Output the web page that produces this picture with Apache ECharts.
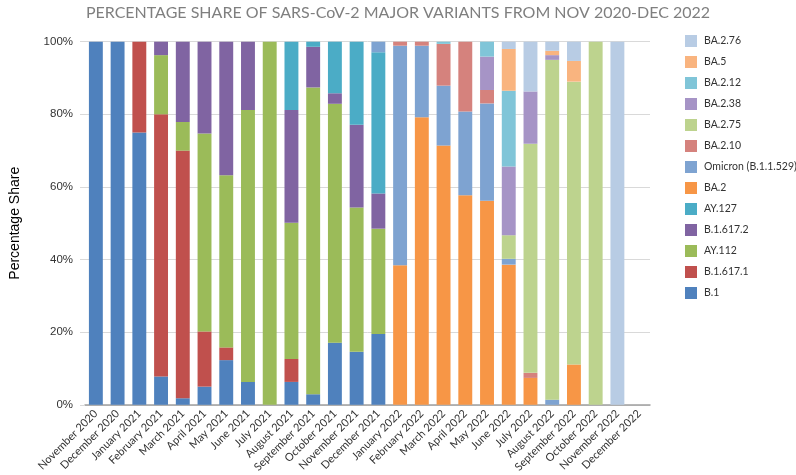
<!DOCTYPE html>
<html>
<head>
<meta charset="utf-8">
<script src="https://cdn.jsdelivr.net/npm/echarts@6/dist/echarts.min.js"></script>
<style>html,body{margin:0;padding:0;background:#fff}#c{width:796px;height:475px}</style>
</head>
<body>
<div id="c"></div>
<script>
const categories = ['November 2020','December 2020','January 2021','February 2021','March 2021','April 2021','May 2021','June 2021','July 2021','August 2021','September 2021','October 2021','November 2021','December 2021','January 2022','February 2022','March 2022','April 2022','May 2022','June 2022','July 2022','August 2022','September 2022','October 2022','November 2022','December 2022'];

const seriesNames = ['B.1','B.1.617.1','AY.112','B.1.617.2','AY.127','BA.2','Omicron (B.1.1.529)','BA.2.10','BA.2.75','BA.2.38','BA.2.12','BA.5','BA.2.76'];

const B1        = [100,100,75,7.8,1.8,5.0,12.3,6.3,0,6.3,2.9,17.1,14.6,19.5,0,0,0,0,0,0,0,0,0,0,0,0];
const B16171    = [0,0,25,72.2,68.2,15.2,3.5,0,0,6.3,0,0,0,0,0,0,0,0,0,0,0,0,0,0,0,0];
const AY112     = [0,0,0,16.3,7.9,54.5,47.4,74.9,100,37.5,84.5,65.8,39.7,29.0,0,0,0,0,0,0,0,0,0,0,0,0];
const B16172    = [0,0,0,3.7,22.1,25.3,36.8,18.8,0,31.1,11.2,2.9,22.8,9.7,0,0,0,0,0,0,0,0,0,0,0,0];
const AY127     = [0,0,0,0,0,0,0,0,0,18.8,1.4,14.2,22.9,38.9,0,0,0,0,0,0,0,0,0,0,0,0];
const BA2       = [0,0,0,0,0,0,0,0,0,0,0,0,0,0,38.4,79.2,71.4,57.7,56.2,38.6,7.4,0,11.1,0,0,0];
const Omicron   = [0,0,0,0,0,0,0,0,0,0,0,0,0,2.9,60.5,19.7,16.5,23.1,26.8,1.6,0,1.4,0,0,0,0];
const BA210     = [0,0,0,0,0,0,0,0,0,0,0,0,0,0,1.1,1.1,11.5,19.2,3.7,0,1.4,0,0,0,0,0];
const BA275     = [0,0,0,0,0,0,0,0,0,0,0,0,0,0,0,0,0,0,0,6.5,63.1,93.6,77.9,100,0,0];
const BA238     = [0,0,0,0,0,0,0,0,0,0,0,0,0,0,0,0,0,0,9.2,18.9,14.4,1.3,0,0,0,0];
const BA212     = [0,0,0,0,0,0,0,0,0,0,0,0,0,0,0,0,0.6,0,4.1,20.9,0,0,0,0,0,0];
const BA5       = [0,0,0,0,0,0,0,0,0,0,0,0,0,0,0,0,0,0,0,11.5,0,1.2,5.7,0,0,0];
const BA276     = [0,0,0,0,0,0,0,0,0,0,0,0,0,0,0,0,0,0,0,2.0,13.7,2.5,5.3,0,100,0];

const seriesData = [B1,B16171,AY112,B16172,AY127,BA2,Omicron,BA210,BA275,BA238,BA212,BA5,BA276];
const colors = ['#4f81bd','#c0504d','#9bbb59','#8064a2','#4bacc6','#f79646','#7ea3d1','#d5827d','#bdd38e','#a694c6','#80c5d8','#f9b47f','#b8cce4'];
const yTicks = [0,20,40,60,80,100];

const chart = echarts.init(document.getElementById('c'));
chart.setOption({
  animation: false,
  color: colors,
  title: {
    text: 'PERCENTAGE SHARE OF SARS-CoV-2 MAJOR VARIANTS FROM NOV 2020-DEC 2022',
    left: 'center', top: 0,
    textStyle: { fontFamily: 'Lato', fontWeight: 'normal', fontSize: 16, color: '#7f7f7f' }
  },
  legend: {
    orient: 'vertical', left: 680, top: 30, itemWidth: 12, itemHeight: 12, itemGap: 9,
    data: seriesNames.slice().reverse(),
    icon: 'rect',
    textStyle: { fontFamily: 'Lato', fontSize: 10.5, color: '#333', padding: [0,0,0,2] }
  },
  grid: { left: 78, right: 146, top: 41.7, bottom: 69.3, containLabel: false },
  xAxis: {
    type: 'category', data: categories,
    axisLine: { lineStyle: { color: '#a0a0a0', width: 1.5 } },
    axisTick: { show: false },
    axisLabel: { rotate: 45, interval: 0, fontFamily: 'Lato', fontSize: 11, color: '#333', margin: 7 }
  },
  yAxis: {
    type: 'value', min: yTicks[0], max: yTicks[yTicks.length - 1], interval: 20,
    name: 'Percentage Share', nameLocation: 'middle', nameGap: 63,
    nameTextStyle: { fontFamily: 'Liberation Sans', fontSize: 14, color: '#000' },
    axisLine: { show: false },
    axisTick: { show: true, length: 5, lineStyle: { color: '#d9d9d9' } },
    axisLabel: { formatter: '{value}%', fontFamily: 'Liberation Sans', fontSize: 11.5, color: '#333', margin: 12 },
    splitLine: { lineStyle: { color: '#d9d9d9' } }
  },
  series: seriesNames.map((n, i) => ({
    name: n, type: 'bar', stack: 'total', data: seriesData[i],
    barCategoryGap: '36%'
  }))
});
</script>
</body>
</html>
